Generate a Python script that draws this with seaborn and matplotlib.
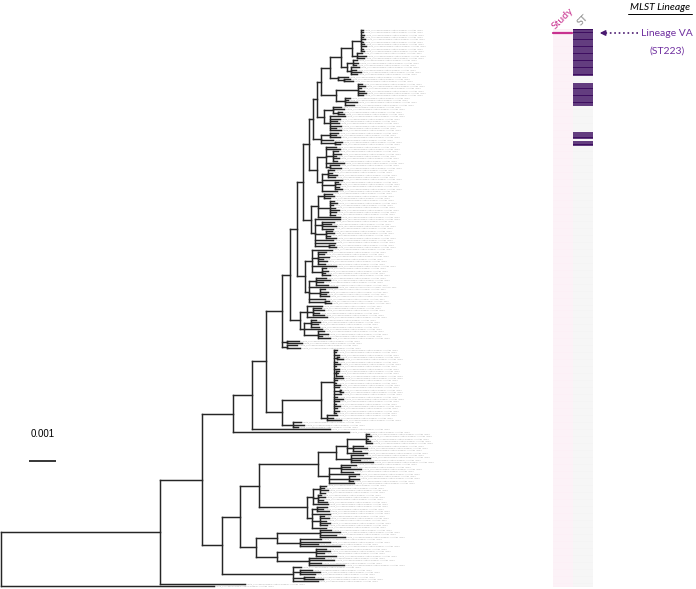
import matplotlib
matplotlib.use("Agg")
import matplotlib.pyplot as plt
import seaborn as sns
import pandas as pd
from matplotlib.collections import LineCollection
from matplotlib.colors import ListedColormap
from matplotlib.lines import Line2D
from matplotlib.patches import FancyArrowPatch

# --- Tree data: Newick pieces, branch lengths in 1e-5 substitutions/site ---
VA1 = "(((:7,:7,:11,:7,:15,:7,:11,:19,:7,:11):33,(:19,:33,:26):19):41,((:15,:22,:11):22,(:30,:19,:37,:22):15):22)"
S2 = "(:37,(:22,:33):22)"
VA2 = "((:15,:26,:11,:22,:30,:19):81,(:19,:11,:44,:33):33)"
S4 = "((:30,:44,(:15,:22):19):33,(:56,:37,:26,:33,:44,:22,:41):22)"
S5 = "((:30,:22,:37):33,:44,(:26,:19):52)"
S6 = "((:37,:52,(:19,:30,:11,:22,:15):26,:67,(:33,:44):15):33,((:22,:15,:33,:26):22,:74,(:11,:19,:15,:26):48,:56):19)"
S7 = "(((:30,:37,:22):22,(:15,:26,:11,:19,:33,:22,:19):44,:81):26,(:93,(:44,:33,:52,:41):26,(:22,:30,:15,:37):41,:67,:74,(:19,:26):52):15)"
S8 = "((:74,(:30,:22,:41,:19,:33,:26):22,:89,(:15,:22,:11,:30):37):26,((:37,:52,:26,:44):26,:104,(:19,:30,:22,:33):41,:59,(:15,:22):59):15)"
S9 = "((:56,(:30,:44,:22,:41):22,:74):26,((:19,:33,:26,:30):26,:67,(:22,:37,:15,:44):52):15)"
HC = "(:11,:7,:15,(:7,:19):11,:11,:22,:7,:15,(:11,:7,:22):7,:30,:11,:7,:19,:15,(:7,:11):19,:26,:11,:33,:15,:7,:22,:11,:15,:7)"
HS = "(:37,:22,:52)"
G = "(:30,:44,:19)"
LA_UP = "((((:11,:19,:7,:15,:22):70,(:37,:52,:30):22,:74):41,(:44,:67,:33,:81):56):67,((:56,:33,:74,:44):44,:111,(:22,:37,:15):74,:93):41)"
LA_LOW = "(((:22,:15,:30,:19):26,(:11,:26,:19,:33):19,:56):19,((:37,:22,:44):22,:67,(:15,:30,:22,:37,:26):33,:52):15)"
L1B = "(((:44,:74,:59,:93):159,(:81,:111,:67,:148):85):78,((:37,:52,:30,:74):144,(:56,:93,:44,:130):118):81)"
L2 = "(:30,(:44,:74,:56):26,(:37,:67):44,:93)"

# backbone of the upper clade
D9 = f"({VA1}:41,{S2}:30)"
D8 = f"({D9}:33,{VA2}:56)"
D7 = f"({D8}:15,{S4}:26)"
D6 = f"({D7}:15,{S5}:30)"
D5 = f"({D6}:15,{S6}:30)"
D4 = f"({D5}:22,{S7}:30)"
D3 = f"({D4}:22,{S8}:30)"
D2 = f"({D3}:26,{S9}:37)"
D = f"({D2}:30,(:44,:52):22,(:37,:48):22)"
H = f"({HC}:48,{HS}:19)"
F = f"({H}:148,{G}:41)"
E = f"({D}:59,{F}:59)"
C_UP = f"({E}:52,:289)"
C = f"({C_UP}:67,:429)"
L1A = f"({LA_UP}:218,{LA_LOW}:178)"
L1 = f"({L1A}:70,{L1B}:56)"
L = f"({L1}:70,{L2}:263)"
TREE = f"((({C}:118,{L}:74):155,:315):588,:788);"

# MLST strip: tip rows belonging to Lineage VA (ST223)
ST223_ROWS = [0, 1, 2, 3, 4, 5, 6, 7, 8, 9, 10, 11, 12, 13, 14, 15, 16, 17, 18, 19,
              23, 24, 25, 26, 27, 28, 29, 30, 31, 32,
              44, 45, 46, 48, 49]
STRIP_COLUMNS = ["Study", "ST"]


def parse_newick(text):
    text = "".join(text.split())
    pos = 0

    def read_node():
        nonlocal pos
        kids = []
        if text[pos] == "(":
            pos += 1
            kids.append(read_node())
            while text[pos] == ",":
                pos += 1
                kids.append(read_node())
            pos += 1
        length = 0.0
        if text[pos] == ":":
            pos += 1
            start = pos
            while text[pos] not in ",);":
                pos += 1
            length = float(text[start:pos])
        return {"kids": kids, "len": length}

    return read_node()


tree = parse_newick(TREE)
tips, segs = [], []


def layout(node, x_parent):
    x = x_parent + node["len"]
    if not node["kids"]:
        y = len(tips)
        tips.append((x, y))
    else:
        ys = [layout(k, x) for k in node["kids"]]
        segs.append([(x, ys[0]), (x, ys[-1])])
        y = (ys[0] + ys[-1]) / 2
    segs.append([(x_parent, y), (x, y)])
    return y


layout(tree, 0.0)
n_tips = len(tips)

# --- Figure geometry (pixels) ---
W, H_PX, DPI = 696, 589, 100
TOP_PX, BOTTOM_PX = 30, 586
SP = (BOTTOM_PX - TOP_PX) / (n_tips - 1)
PX_PER_UNIT = 27 / 100  # scale bar 0.001 = 100 units = 27 px
TREE_W = 480


def fx(px):
    return px / W


def fy(py):
    return 1 - py / H_PX


def row(py):
    return (py - TOP_PX) / SP


sns.set_theme(style="white")
plt.rcParams["font.family"] = ["Liberation Sans", "DejaVu Sans"]

fig = plt.figure(figsize=(W / DPI, H_PX / DPI), dpi=DPI)
fig.patch.set_facecolor("white")

ax = fig.add_axes([0, 0, TREE_W / W, 1])
ax.set_xlim(-1 / PX_PER_UNIT, (TREE_W - 1) / PX_PER_UNIT)
ax.set_ylim((H_PX - TOP_PX) / SP, -TOP_PX / SP)
ax.axis("off")

ax.add_collection(LineCollection(segs, colors="#262626", linewidths=1.05, capstyle="projecting"))
for k, (x, y) in enumerate(tips):
    ax.text(x + 1.5 / PX_PER_UNIT, y,
            f"isolate_{k + 1:03d} | whole genome shotgun assembly | contigs | 2014",
            fontsize=1.5, color="#a6a6a6", va="center", ha="left")

# scale bar
x0 = (29 - 1) / PX_PER_UNIT
ax.plot([x0, x0 + 100], [row(461), row(461)], color="black", lw=1.1, solid_capstyle="butt")
ax.text(x0 + 50, row(434), "0.001", fontsize=7, ha="center", va="center", color="black")

# --- MLST strip (seaborn heatmap) ---
st_vals = [2 if i in ST223_ROWS else 0 for i in range(n_tips)]
strip = pd.DataFrame({"Study": [1] * n_tips, "ST": st_vals})[STRIP_COLUMNS]
ax2 = fig.add_axes([fx(553), fy(BOTTOM_PX + SP / 2), fx(40), n_tips * SP / H_PX])
sns.heatmap(strip, ax=ax2, cmap=ListedColormap(["#f4f4f4", "#fcf0f6", "#3e0e60"]),
            vmin=-0.5, vmax=2.5, cbar=False, linewidths=0,
            xticklabels=False, yticklabels=False)
# thin row separators
ax2.hlines(range(1, n_tips), 0, 2, colors="white", linewidth=0.35, alpha=0.8)
ax2.set_xlabel("")
ax2.set_ylabel("")

# --- headers and annotation ---
fig.add_artist(Line2D([fx(553), fx(572)], [fy(32.5), fy(32.5)], color="#c8318f", lw=1.6))
fig.text(fx(563), fy(18), "Study", rotation=45, color="#c8318f", fontsize=7.5,
         ha="center", va="center", family=["Lato", "DejaVu Sans"])
fig.text(fx(583), fy(20), "ST", rotation=45, color="#8a8a8a", fontsize=7.5,
         ha="center", va="center", family=["Lato", "DejaVu Sans"])
fig.text(fx(660), fy(8), "MLST Lineage", style="italic", fontsize=7.5, color="black",
         ha="center", va="center", family=["Lato", "DejaVu Sans"])
fig.add_artist(Line2D([fx(628), fx(692)], [fy(14), fy(14)], color="black", lw=0.7))
fig.text(fx(693), fy(34), "Lineage VA", color="#7030a0", fontsize=7.5,
         ha="right", va="center", family=["Lato", "DejaVu Sans"])
fig.text(fx(667), fy(51), "(ST223)", color="#7030a0", fontsize=7.5,
         ha="center", va="center", family=["Lato", "DejaVu Sans"])
fig.add_artist(Line2D([fx(638), fx(603)], [fy(33), fy(33)], color="#4a1a70", lw=1.2, ls=":"))
fig.add_artist(FancyArrowPatch((fx(606), fy(33)), (fx(597), fy(33)), transform=fig.transFigure,
                               arrowstyle="-|>", mutation_scale=8, color="#4a1a70", lw=1.0))

fig.savefig("out.png", dpi=DPI, facecolor="white")
